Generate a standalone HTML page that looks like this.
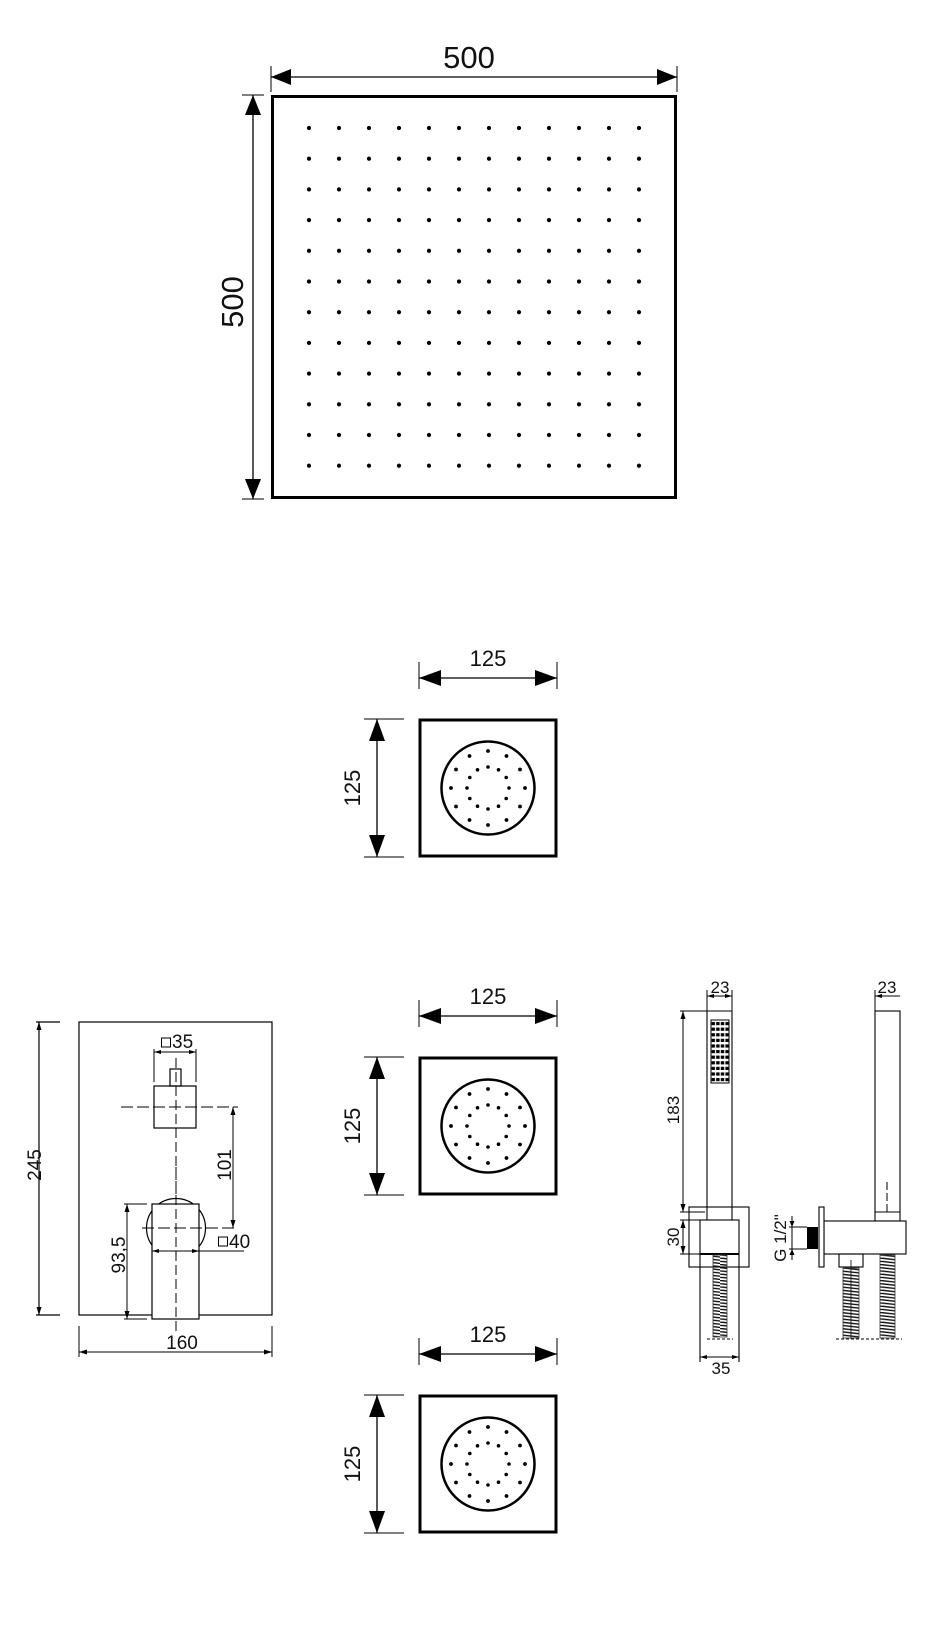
<!DOCTYPE html>
<html><head><meta charset="utf-8"><style>
html,body{margin:0;padding:0;background:#fff;}
svg{display:block;}
text{font-family:"Liberation Sans",Arial,sans-serif;fill:#111;}
</style></head><body>
<svg width="935" height="1635" viewBox="0 0 935 1635" xmlns="http://www.w3.org/2000/svg">
<defs>
<pattern id="grid" patternUnits="userSpaceOnUse" x="294" y="112.65" width="30" height="30.7">
<circle cx="15" cy="15.35" r="2.1" fill="#000"/>
</pattern>
<pattern id="spray" patternUnits="userSpaceOnUse" x="711" y="1021" width="4.6" height="5.6">
<rect x="0.6" y="1" width="3.4" height="3.2" fill="#000"/>
</pattern>
<pattern id="hose" patternUnits="userSpaceOnUse" x="0" y="0" width="20" height="3.2">
<line x1="0" y1="0.4" x2="20" y2="2.6" stroke="#111" stroke-width="1.4"/>
</pattern>
<g id="jet">
<rect x="-68" y="-68" width="136" height="136" fill="none" stroke="#000" stroke-width="3"/>
<circle r="46.5" fill="none" stroke="#000" stroke-width="2.5"/>
<g id="ring">
<circle cx="0" cy="-37" r="1.9"/><circle cx="18.5" cy="-32" r="1.9"/><circle cx="32" cy="-18.5" r="1.9"/>
<circle cx="37" cy="0" r="1.9"/><circle cx="32" cy="18.5" r="1.9"/><circle cx="18.5" cy="32" r="1.9"/>
<circle cx="0" cy="37" r="1.9"/><circle cx="-18.5" cy="32" r="1.9"/><circle cx="-32" cy="18.5" r="1.9"/>
<circle cx="-37" cy="0" r="1.9"/><circle cx="-32" cy="-18.5" r="1.9"/><circle cx="-18.5" cy="-32" r="1.9"/>
<circle cx="0" cy="-21" r="1.8"/><circle cx="10.5" cy="-18.2" r="1.8"/><circle cx="18.2" cy="-10.5" r="1.8"/>
<circle cx="21" cy="0" r="1.8"/><circle cx="18.2" cy="10.5" r="1.8"/><circle cx="10.5" cy="18.2" r="1.8"/>
<circle cx="0" cy="21" r="1.8"/><circle cx="-10.5" cy="18.2" r="1.8"/><circle cx="-18.2" cy="10.5" r="1.8"/>
<circle cx="-21" cy="0" r="1.8"/><circle cx="-18.2" cy="-10.5" r="1.8"/><circle cx="-10.5" cy="-18.2" r="1.8"/>
</g>
<line x1="-69" y1="-110" x2="69" y2="-110" stroke="#000" stroke-width="1.3"/>
<polygon points="-69,-110 -47,-118 -47,-102"/>
<polygon points="69,-110 47,-118 47,-102"/>
<line x1="-69" y1="-126" x2="-69" y2="-99" stroke="#000" stroke-width="1"/>
<line x1="69" y1="-126" x2="69" y2="-99" stroke="#000" stroke-width="1"/>
<line x1="-111" y1="-69" x2="-111" y2="69" stroke="#000" stroke-width="1.3"/>
<polygon points="-111,-69 -119,-47 -103,-47"/>
<polygon points="-111,69 -119,47 -103,47"/>
<line x1="-124" y1="-69" x2="-84" y2="-69" stroke="#000" stroke-width="1"/>
<line x1="-124" y1="69" x2="-84" y2="69" stroke="#000" stroke-width="1"/>
</g>
</defs>

<rect x="272.5" y="96.5" width="403" height="401" fill="none" stroke="#000" stroke-width="3"/>
<rect x="294" y="112.65" width="360" height="368.4" fill="url(#grid)"/>
<line x1="271" y1="77" x2="677" y2="77" stroke="#000" stroke-width="1.3"/>
<polygon points="271,77 291,69 291,85"/>
<polygon points="677,77 657,69 657,85"/>
<line x1="271" y1="66" x2="271" y2="92" stroke="#000" stroke-width="1"/>
<line x1="677" y1="66" x2="677" y2="92" stroke="#000" stroke-width="1"/>
<text x="469" y="68" font-size="31" text-anchor="middle">500</text>
<line x1="253" y1="95" x2="253" y2="499" stroke="#000" stroke-width="1.3"/>
<polygon points="253,95 245,115 261,115"/>
<polygon points="253,499 245,479 261,479"/>
<line x1="242" y1="95" x2="264" y2="95" stroke="#000" stroke-width="1"/>
<line x1="242" y1="499" x2="264" y2="499" stroke="#000" stroke-width="1"/>
<text transform="translate(243,302) rotate(-90)" font-size="31" text-anchor="middle">500</text>

<use href="#jet" x="488" y="788"/>
<text x="488" y="666" font-size="22" text-anchor="middle">125</text>
<text transform="translate(360,788) rotate(-90)" font-size="22" text-anchor="middle">125</text>
<use href="#jet" x="488" y="1126"/>
<text x="488" y="1004" font-size="22" text-anchor="middle">125</text>
<text transform="translate(360,1126) rotate(-90)" font-size="22" text-anchor="middle">125</text>
<use href="#jet" x="488" y="1464"/>
<text x="488" y="1342" font-size="22" text-anchor="middle">125</text>
<text transform="translate(360,1464) rotate(-90)" font-size="22" text-anchor="middle">125</text>

<g stroke="#000" fill="none" stroke-width="1.2">
<rect x="79" y="1022" width="193" height="293"/>
<line x1="39" y1="1022" x2="39" y2="1315"/>
<line x1="36" y1="1022" x2="60" y2="1022"/>
<line x1="36" y1="1315" x2="60" y2="1315"/>
<rect x="154" y="1086" width="42" height="42"/>
<rect x="170" y="1069" width="11" height="17"/>
<line x1="154" y1="1049" x2="154" y2="1082" stroke-width="1"/>
<line x1="196" y1="1049" x2="196" y2="1082" stroke-width="1"/>
<line x1="154" y1="1052" x2="196" y2="1052" stroke-width="1"/>
<line x1="121" y1="1107" x2="238" y2="1107" stroke-dasharray="12,4" stroke-width="1"/>
<line x1="176" y1="1058" x2="176" y2="1200" stroke-dasharray="10,4" stroke-width="1"/>
<line x1="233" y1="1107" x2="233" y2="1228" stroke-width="1"/>
<circle cx="176" cy="1228" r="29.5"/>
<rect x="152" y="1204" width="47" height="115" fill="#fff"/>
<line x1="142" y1="1228" x2="238" y2="1228" stroke-dasharray="12,4" stroke-width="1"/>
<line x1="176" y1="1167" x2="176" y2="1332" stroke-dasharray="10,4" stroke-width="1"/>
<line x1="152" y1="1251" x2="244" y2="1251" stroke-width="1"/>
<line x1="127" y1="1204" x2="127" y2="1319" stroke-width="1"/>
<line x1="124" y1="1204" x2="147" y2="1204" stroke-width="1"/>
<line x1="124" y1="1319" x2="147" y2="1319" stroke-width="1"/>
<line x1="79" y1="1326" x2="79" y2="1357" stroke-width="1"/>
<line x1="272" y1="1326" x2="272" y2="1357" stroke-width="1"/>
<line x1="79" y1="1352" x2="272" y2="1352" stroke-width="1"/>
<rect x="161.5" y="1038" width="9" height="9" stroke-width="1"/>
<rect x="218.5" y="1237" width="9" height="9" stroke-width="1"/>
</g>
<g fill="#000">
<polygon points="39,1022 36.5,1030 41.5,1030"/><polygon points="39,1315 36.5,1307 41.5,1307"/>
<polygon points="154,1052 161,1050 161,1054"/><polygon points="196,1052 189,1050 189,1054"/>
<polygon points="233,1107 230.5,1115 235.5,1115"/><polygon points="233,1228 230.5,1220 235.5,1220"/>
<polygon points="152,1251 159,1249 159,1253"/><polygon points="199,1251 192,1249 192,1253"/>
<polygon points="127,1204 124.5,1212 129.5,1212"/><polygon points="127,1319 124.5,1311 129.5,1311"/>
<polygon points="79,1352 87,1349.5 87,1354.5"/><polygon points="272,1352 264,1349.5 264,1354.5"/>
</g>
<text transform="translate(41,1165) rotate(-90)" font-size="19" text-anchor="middle">245</text>
<text x="172" y="1048" font-size="19">35</text>
<text transform="translate(231,1165) rotate(-90)" font-size="19" text-anchor="middle">101</text>
<text x="229" y="1248" font-size="19">40</text>
<text transform="translate(125,1255) rotate(-90)" font-size="19" text-anchor="middle">93,5</text>
<text x="182" y="1349" font-size="19" text-anchor="middle">160</text>

<g stroke="#000" fill="none" stroke-width="1.1">
<line x1="707" y1="1011" x2="732" y2="1011"/>
<line x1="707" y1="1011" x2="707" y2="1220"/>
<line x1="732" y1="1011" x2="732" y2="1220"/>
<rect x="711" y="1020" width="18" height="63" stroke-width="1"/>
<rect x="689" y="1207" width="60" height="60"/>
<rect x="700" y="1220" width="39" height="34" fill="#fff"/>
<line x1="700" y1="1254" x2="739" y2="1254" stroke-width="2"/>
<line x1="700" y1="1254" x2="700" y2="1362"/>
<line x1="739" y1="1254" x2="739" y2="1362"/>
<line x1="707" y1="1339" x2="733" y2="1339" stroke-dasharray="3,2" stroke-width="1"/>
<line x1="707" y1="990" x2="707" y2="1011" stroke-width="1"/>
<line x1="732" y1="990" x2="732" y2="1011" stroke-width="1"/>
<line x1="707" y1="996" x2="732" y2="996" stroke-width="1"/>
<line x1="680" y1="1011" x2="707" y2="1011" stroke-width="1"/>
<line x1="683" y1="1011" x2="683" y2="1212" stroke-width="1"/>
<line x1="680" y1="1212" x2="705" y2="1212" stroke-width="1"/>
<line x1="680" y1="1220" x2="700" y2="1220" stroke-width="1"/>
<line x1="680" y1="1254" x2="700" y2="1254" stroke-width="1"/>
<line x1="683" y1="1220" x2="683" y2="1254" stroke-width="1"/>
<line x1="700" y1="1357" x2="739" y2="1357" stroke-width="1"/>
</g>
<rect x="711" y="1020" width="18" height="63" fill="url(#spray)"/>
<rect x="713" y="1255" width="14" height="82" fill="url(#hose)" stroke="#333" stroke-width="0.8"/>
<g fill="#000">
<polygon points="707,996 714,994 714,998"/><polygon points="732,996 725,994 725,998"/>
<polygon points="683,1011 680.5,1019 685.5,1019"/><polygon points="683,1212 680.5,1204 685.5,1204"/>
<polygon points="683,1220 680.5,1228 685.5,1228"/><polygon points="683,1254 680.5,1246 685.5,1246"/>
<polygon points="700,1357 707,1355 707,1359"/><polygon points="739,1357 732,1355 732,1359"/>
</g>
<text x="720" y="993" font-size="17" text-anchor="middle">23</text>
<text transform="translate(679,1110) rotate(-90)" font-size="17" text-anchor="middle">183</text>
<text transform="translate(679,1237) rotate(-90)" font-size="17" text-anchor="middle">30</text>
<text x="721" y="1374" font-size="17" text-anchor="middle">35</text>

<g stroke="#000" fill="none" stroke-width="1.1">
<rect x="875" y="1011" width="25" height="210"/>
<line x1="875" y1="1212" x2="900" y2="1212"/>
<line x1="887" y1="1182" x2="887" y2="1212" stroke-dasharray="8,3" stroke-width="1"/>
<rect x="824" y="1221" width="82" height="33" fill="#fff"/>
<rect x="819" y="1207" width="5" height="60" fill="#fff"/>
<rect x="839" y="1254" width="24" height="13"/>
<line x1="851" y1="1260" x2="851" y2="1339" stroke-width="0.8"/>
<line x1="836" y1="1339" x2="902" y2="1339" stroke-dasharray="3,2" stroke-width="1"/>
<line x1="789" y1="1227" x2="807" y2="1227" stroke-width="1"/>
<line x1="789" y1="1249" x2="807" y2="1249" stroke-width="1"/>
<line x1="792" y1="1216" x2="792" y2="1260" stroke-width="1"/>
<line x1="875" y1="990" x2="875" y2="1011" stroke-width="1"/>
<line x1="875" y1="996" x2="900" y2="996" stroke-width="1"/>
</g>
<rect x="807" y="1227" width="11" height="22" fill="#000"/>
<rect x="843" y="1268" width="16" height="70" fill="url(#hose)" stroke="#333" stroke-width="0.8"/>
<rect x="880" y="1255" width="15" height="83" fill="url(#hose)" stroke="#333" stroke-width="0.8"/>
<g fill="#000">
<polygon points="792,1227 789.5,1221 794.5,1221"/><polygon points="792,1249 789.5,1255 794.5,1255"/>
<polygon points="875,996 882,994 882,998"/>
</g>
<text x="887" y="993" font-size="17" text-anchor="middle">23</text>
<text transform="translate(786,1238) rotate(-90)" font-size="17" text-anchor="middle">G 1/2"</text>
</svg>
</body></html>
